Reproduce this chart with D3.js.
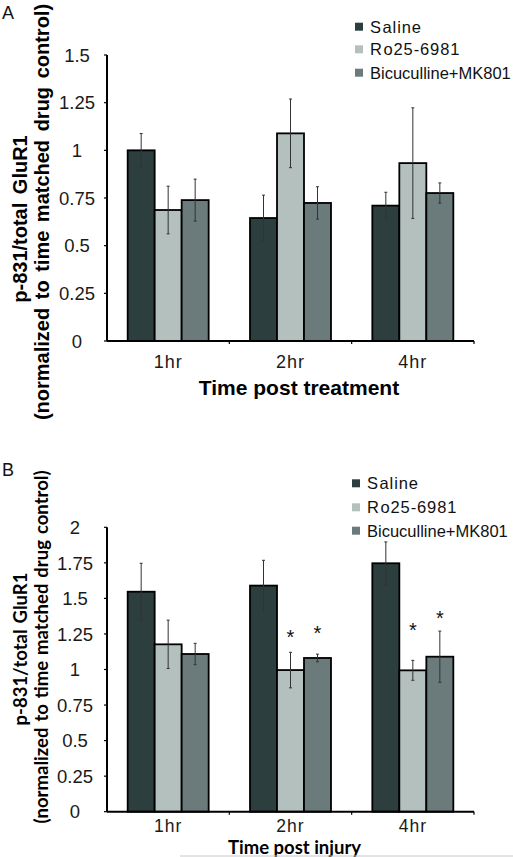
<!DOCTYPE html>
<html><head><meta charset="utf-8">
<script src="https://cdn.jsdelivr.net/npm/d3@7"></script>
<style>body{margin:0;background:#fff}svg{display:block}</style>
</head><body>
<svg id="c" width="513" height="857"></svg>
<script>
const categories = ["1hr","2hr","4hr"];
const seriesNames = ["Saline","Ro25-6981","Bicuculline+MK801"];
const seriesColors = ["#2d3e3f","#b4c0bd","#6b7b7b"];
// Panel A
const aSaline = [1.00, 0.645, 0.71];
const aRo = [0.687, 1.089, 0.933];
const aBic = [0.739, 0.724, 0.776];
const aSalineErr = [0.088, 0.12, 0.07];
const aRoErr = [0.125, 0.18, 0.29];
const aBicErr = [0.11, 0.085, 0.053];
const aTicks = [0,0.25,0.5,0.75,1,1.25,1.5];
const aTickLabels = ["0","0.25","0.5","0.75","1","1.25","1.5"];
// Panel B
const bSaline = [1.547, 1.59, 1.747];
const bRo = [1.177, 0.996, 0.994];
const bBic = [1.109, 1.081, 1.09];
const bSalineErr = [0.2, 0.178, 0.15];
const bRoErr = [0.17, 0.125, 0.07];
const bBicErr = [0.075, 0.027, 0.18];
const bStarRo = [null, 1.264, 1.315];
const bStarBic = [null, 1.297, 1.397];
const bTicks = [0,0.25,0.5,0.75,1,1.25,1.5,1.75,2];
const bTickLabels = ["0","0.25","0.5","0.75","1","1.25","1.5","1.75","2"];

const svg = d3.select("#c");
const AR = "'Liberation Sans', Arial, sans-serif";
const CAL = "Lato, 'Open Sans', sans-serif";

function panel(o){
  const g = svg.append("g");
  const x0 = d3.scaleBand().domain(categories).range([107,474]).paddingInner(0.338).paddingOuter(0.169);
  const x1 = d3.scaleBand().domain(seriesNames).range([0, x0.bandwidth()]);
  const y = d3.scaleLinear().domain([0, o.max]).range([o.y0, o.y1]);
  const vals = [o.s, o.r, o.b], errs = [o.se, o.re, o.be];
  seriesNames.forEach((sn, si) => {
    g.selectAll(null).data(categories).enter().append("rect")
      .attr("x", c => x0(c) + x1(sn))
      .attr("width", x1.bandwidth())
      .attr("y", (c,i) => y(vals[si][i]))
      .attr("height", (c,i) => y(0) - y(vals[si][i]))
      .attr("fill", seriesColors[si]).attr("stroke", "#000").attr("stroke-width", 1.8);
  });
  seriesNames.forEach((sn, si) => {
    categories.forEach((c,i) => {
      const cx = x0(c) + x1(sn) + x1.bandwidth()/2;
      const hi = y(vals[si][i] + errs[si][i]), lo = y(vals[si][i] - errs[si][i]);
      g.append("line").attr("x1",cx).attr("x2",cx).attr("y1",hi).attr("y2",lo).attr("stroke","#333").attr("stroke-width",1);
      [hi,lo].forEach(yy => g.append("line").attr("x1",cx-1.5).attr("x2",cx+1.5).attr("y1",yy).attr("y2",yy).attr("stroke","#333").attr("stroke-width",1));
    });
  });
  if (o.stars) {
    o.stars.forEach((arr, k) => {
      const sn = seriesNames[k+1];
      arr.forEach((v,i) => {
        if (v == null) return;
        g.append("text").attr("x", x0(categories[i]) + x1(sn) + x1.bandwidth()/2).attr("y", y(v)).attr("dy","0.62em")
          .attr("text-anchor","middle").attr("font-family",AR).attr("font-size",20).attr("fill","#111").text("*");
      });
    });
  }
  g.append("line").attr("x1",107).attr("x2",107).attr("y1",y(o.max)).attr("y2",y(0)).attr("stroke","#000").attr("stroke-width",2);
  o.ticks.forEach((t,i) => {
    g.append("line").attr("x1",104).attr("x2",107).attr("y1",y(t)).attr("y2",y(t)).attr("stroke","#000").attr("stroke-width",1.2);
    g.append("text").attr("x",o.tx).attr("y",y(t)).attr("dy","0.36em").attr("text-anchor","middle")
      .attr("font-family",AR).attr("font-size",18.5).attr("fill","#1a1a1a").text(o.labels[i]);
  });
  g.append("line").attr("x1",107).attr("x2",474).attr("y1",y(0)).attr("y2",y(0)).attr("stroke","#000").attr("stroke-width",2);
  const step = x0.step();
  [1,2,3].forEach(k => {
    const xx = 107 + k*step;
    g.append("line").attr("x1",xx).attr("x2",xx).attr("y1",y(0)).attr("y2",y(0)+3).attr("stroke","#000").attr("stroke-width",1.2);
  });
  categories.forEach(c => {
    g.append("text").attr("x", x0(c)+x0.bandwidth()/2).attr("y", y(0)+o.catDy).attr("dy","0.36em").attr("text-anchor","middle")
      .attr("font-family",AR).attr("font-size",o.catSize).attr("letter-spacing",1).attr("fill","#1a1a1a").text(c);
  });
  g.append("text").attr("x",o.xtX).attr("y",o.xtY).attr("dy","0.36em").attr("text-anchor","middle")
    .attr("font-family",o.tf).attr("font-weight","bold").attr("font-size",o.xtSize).attr("fill","#000").text(o.xTitle);
  g.append("text").attr("transform",`translate(${o.yl1x},${o.yl1y}) rotate(-90)`).attr("dy","0.36em").attr("text-anchor","middle")
    .attr("font-family",o.tf).attr("font-weight","bold").attr("font-size",o.ytSize).attr("word-spacing",o.ws).attr("fill","#000").text("p-831/total GluR1");
  g.append("text").attr("transform",`translate(${o.yl2x},${o.yl2y}) rotate(-90)`).attr("dy","0.36em").attr("text-anchor","middle")
    .attr("font-family",o.tf).attr("font-weight","bold").attr("font-size",o.ytSize).attr("word-spacing",o.ws).attr("fill","#000").text("(normalized to time matched drug control)");
  seriesNames.forEach((sn,i) => {
    const ly = o.legY[i];
    g.append("rect").attr("x",o.legX).attr("y",ly-4).attr("width",8).attr("height",8).attr("fill",seriesColors[i]);
    const t = g.append("text").attr("x",o.legX+15).attr("y",ly).attr("dy","0.36em")
      .attr("font-family",AR).attr("font-size",16.5).attr("fill","#111");
    if (i < 2) {
      t.append("tspan").text(sn[0]);
      t.append("tspan").attr("dx",1.5).attr("letter-spacing",0.9).text(sn.slice(1));
    } else t.text(sn);
  });
  g.append("text").attr("x",2).attr("y",o.letterY).attr("dy","0.36em").attr("font-family",AR).attr("font-size",18).attr("fill","#111").text(o.letter);
}

panel({s:aSaline,r:aRo,b:aBic,se:aSalineErr,re:aRoErr,be:aBicErr,max:1.5,y0:341,y1:55,ticks:aTicks,labels:aTickLabels,tx:77,
  catDy:21,catSize:18,xTitle:"Time post treatment",xtX:299,xtY:387,xtSize:21,tf:AR,ytSize:20,ws:3,
  yl1x:20,yl1y:219,yl2x:42,yl2y:212,legX:355,legY:[26.7,49.3,72.7],letter:"A",letterY:13});

panel({s:bSaline,r:bRo,b:bBic,se:bSalineErr,re:bRoErr,be:bBicErr,max:2,y0:811.7,y1:527.3,ticks:bTicks,labels:bTickLabels,tx:75,
  stars:[bStarRo,bStarBic],
  catDy:14,catSize:17.5,xTitle:"Time post injury",xtX:294.5,xtY:847.5,xtSize:18.5,tf:CAL,ytSize:18.5,ws:1.5,
  yl1x:20,yl1y:649,yl2x:41,yl2y:647,legX:352,legY:[483.3,507.3,530.7],letter:"B",letterY:470});

svg.append("line").attr("x1",180).attr("x2",513).attr("y1",856).attr("y2",856).attr("stroke","#c8c8c8").attr("stroke-width",1);
</script>
</body></html>
